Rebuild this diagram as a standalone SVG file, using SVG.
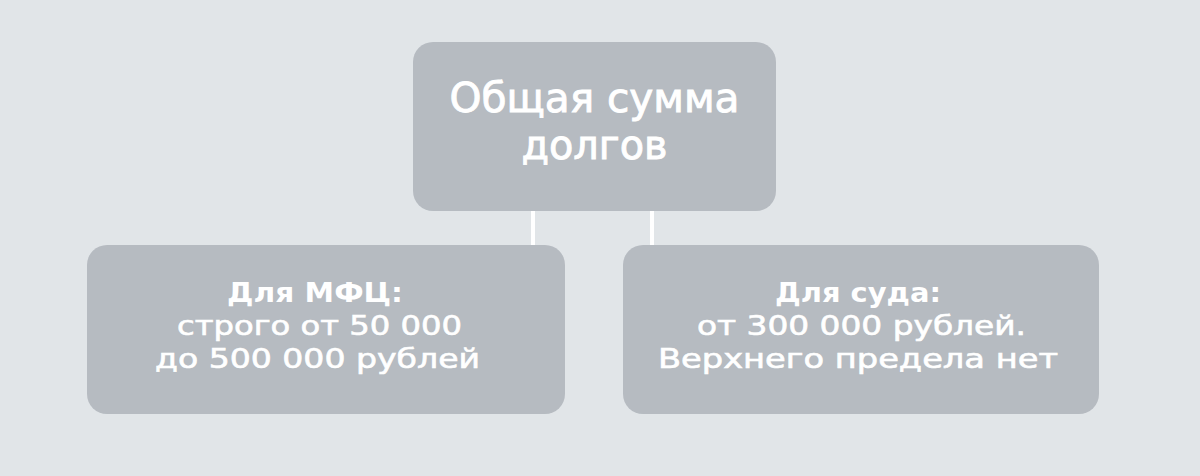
<svg xmlns="http://www.w3.org/2000/svg" width="1200" height="476" viewBox="0 0 1200 476">
<style>
.box{fill:#b6bbc1}
.t{fill:#ffffff;font-family:"DejaVu Sans","Noto Sans",sans-serif;text-anchor:middle}
.m{stroke:#ffffff;stroke-width:0.6}
.mt{stroke:#ffffff;stroke-width:0.9}
.top{font-size:40px}
.sub{font-size:26px}
.b{font-weight:700}
.conn{stroke:#ffffff;stroke-width:4}
</style>
<rect width="1200" height="476" fill="#e1e5e8"/>
<g id="connectors">
<line class="conn" x1="533" y1="210" x2="533" y2="246"/>
<line class="conn" x1="652" y1="210" x2="652" y2="246"/>
</g>
<g id="node-total">
<rect class="box" x="413" y="42" width="363" height="169" rx="20"/>
<text class="t top mt" x="594.5" y="112" textLength="290" lengthAdjust="spacingAndGlyphs">Общая сумма</text>
<text class="t top mt" x="594.5" y="159" textLength="146" lengthAdjust="spacingAndGlyphs">долгов</text>
</g>
<g id="node-mfc">
<rect class="box" x="87" y="245" width="478" height="169" rx="20"/>
<text class="t sub b" x="315" y="302" textLength="176" lengthAdjust="spacingAndGlyphs">Для МФЦ:</text>
<text class="t sub m" x="319.5" y="335" textLength="285" lengthAdjust="spacingAndGlyphs">строго от 50 000</text>
<text class="t sub m" x="317.5" y="368" textLength="325" lengthAdjust="spacingAndGlyphs">до 500 000 рублей</text>
</g>
<g id="node-court">
<rect class="box" x="623" y="245" width="476" height="169" rx="20"/>
<text class="t sub b" x="858" y="302" textLength="166" lengthAdjust="spacingAndGlyphs">Для суда:</text>
<text class="t sub m" x="861.5" y="335" textLength="329" lengthAdjust="spacingAndGlyphs">от 300 000 рублей.</text>
<text class="t sub m" x="858" y="368" textLength="400" lengthAdjust="spacingAndGlyphs">Верхнего предела нет</text>
</g>
</svg>
